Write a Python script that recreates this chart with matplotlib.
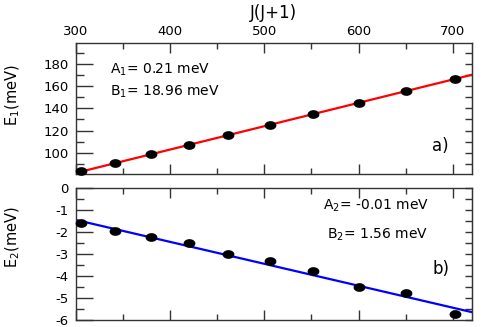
import matplotlib
matplotlib.use('Agg')
import matplotlib.pyplot as plt
import numpy as np
from matplotlib.path import Path
from matplotlib.ticker import MultipleLocator, NullFormatter

plt.rcParams['font.family'] = ['DejaVu Sans']
plt.rcParams['mathtext.fontset'] = 'dejavusans'
plt.rcParams['axes.unicode_minus'] = False

# --- Data ---
jj = [306, 342, 380, 420, 462, 506, 552, 600, 650, 702]   # J(J+1), J = 17..26
e1 = [84.0, 91.0, 99.1, 107.4, 116.1, 125.1, 134.9, 144.8, 155.2, 166.3]
e2 = [-1.60, -1.93, -2.23, -2.49, -2.98, -3.29, -3.79, -4.51, -4.79, -5.73]

# fit parameters: E = B + A * J(J+1)
A1, B1 = 0.21, 18.96
A2, B2 = -0.01, 1.56
fit_x = [300, 720]

# ellipse marker (wider than tall)
t = np.linspace(0, 2 * np.pi, 40)
ell = Path(np.column_stack([np.cos(t), 0.7 * np.sin(t)]))

spine_col = '#333333'

fig = plt.figure(figsize=(4.9, 3.27), dpi=100)
ax1 = fig.add_axes([0.1545, 0.4679, 0.8082, 0.3997])
ax2 = fig.add_axes([0.1545, 0.0214, 0.8082, 0.4028])


def style(ax, major, minor):
    ax.set_xlim(300, 720)
    ax.xaxis.set_major_locator(MultipleLocator(100))
    ax.xaxis.set_minor_locator(MultipleLocator(50))
    ax.yaxis.set_major_locator(MultipleLocator(major))
    ax.yaxis.set_minor_locator(MultipleLocator(minor))
    ax.tick_params(axis='x', which='both', direction='in', top=True, bottom=True,
                   color=spine_col, width=1)
    ax.tick_params(axis='x', which='major', length=7)
    ax.tick_params(axis='x', which='minor', length=4)
    ax.tick_params(axis='y', which='both', direction='in', left=True, right=False,
                   color=spine_col, width=1, labelsize=9.5, pad=5)
    ax.tick_params(axis='y', which='major', length=12)
    ax.tick_params(axis='y', which='minor', length=6)
    for s in ax.spines.values():
        s.set_color(spine_col)
        s.set_linewidth(1)
    sec = ax.secondary_yaxis('right')
    sec.yaxis.set_major_locator(MultipleLocator(minor))
    sec.yaxis.set_major_formatter(NullFormatter())
    sec.tick_params(direction='in', length=5, color=spine_col, width=1)
    sec.spines['right'].set_color(spine_col)


# Panel a)
x = np.array(fit_x)
ax1.plot(x, B1 + A1 * x, color='#ff0000', lw=1.6, zorder=2)
ax1.plot(jj, e1, ls='none', marker=ell, ms=7.5, color='black', zorder=3, clip_on=False)
ax1.set_ylim(81, 198.5)
style(ax1, 20, 10)
ax1.tick_params(axis='x', labeltop=True, labelbottom=False, labelsize=9.5, pad=4)
ax1.xaxis.set_label_position('top')
ax1.set_xlabel('J(J+1)', fontsize=12, labelpad=5)
ax1.set_ylabel('E$_1$(meV)', fontsize=10.5)
ax1.yaxis.set_label_coords(-0.135, 0.6)
ax1.text(0.087, 0.796, 'A$_1$= 0.21 meV', transform=ax1.transAxes, fontsize=10, va='center')
ax1.text(0.087, 0.627, 'B$_1$= 18.96 meV', transform=ax1.transAxes, fontsize=10, va='center')
ax1.text(0.90, 0.214, 'a)', transform=ax1.transAxes, fontsize=12, va='center')

# Panel b)
ax2.plot(x, B2 + A2 * x, color='#0000ff', lw=1.6, zorder=2)
ax2.plot(jj, e2, ls='none', marker=ell, ms=7.5, color='black', zorder=3, clip_on=False)
ax2.set_ylim(-6, 0)
style(ax2, 1, 0.5)
ax2.tick_params(axis='x', labeltop=False, labelbottom=False)
ax2.set_ylabel('E$_2$(meV)', fontsize=10.5)
ax2.yaxis.set_label_coords(-0.135, 0.63)
ax2.text(0.625, 0.868, 'A$_2$= -0.01 meV', transform=ax2.transAxes, fontsize=10, va='center')
ax2.text(0.635, 0.645, 'B$_2$= 1.56 meV', transform=ax2.transAxes, fontsize=10, va='center')
ax2.text(0.90, 0.387, 'b)', transform=ax2.transAxes, fontsize=12, va='center')

fig.savefig('out.png', dpi=100)
